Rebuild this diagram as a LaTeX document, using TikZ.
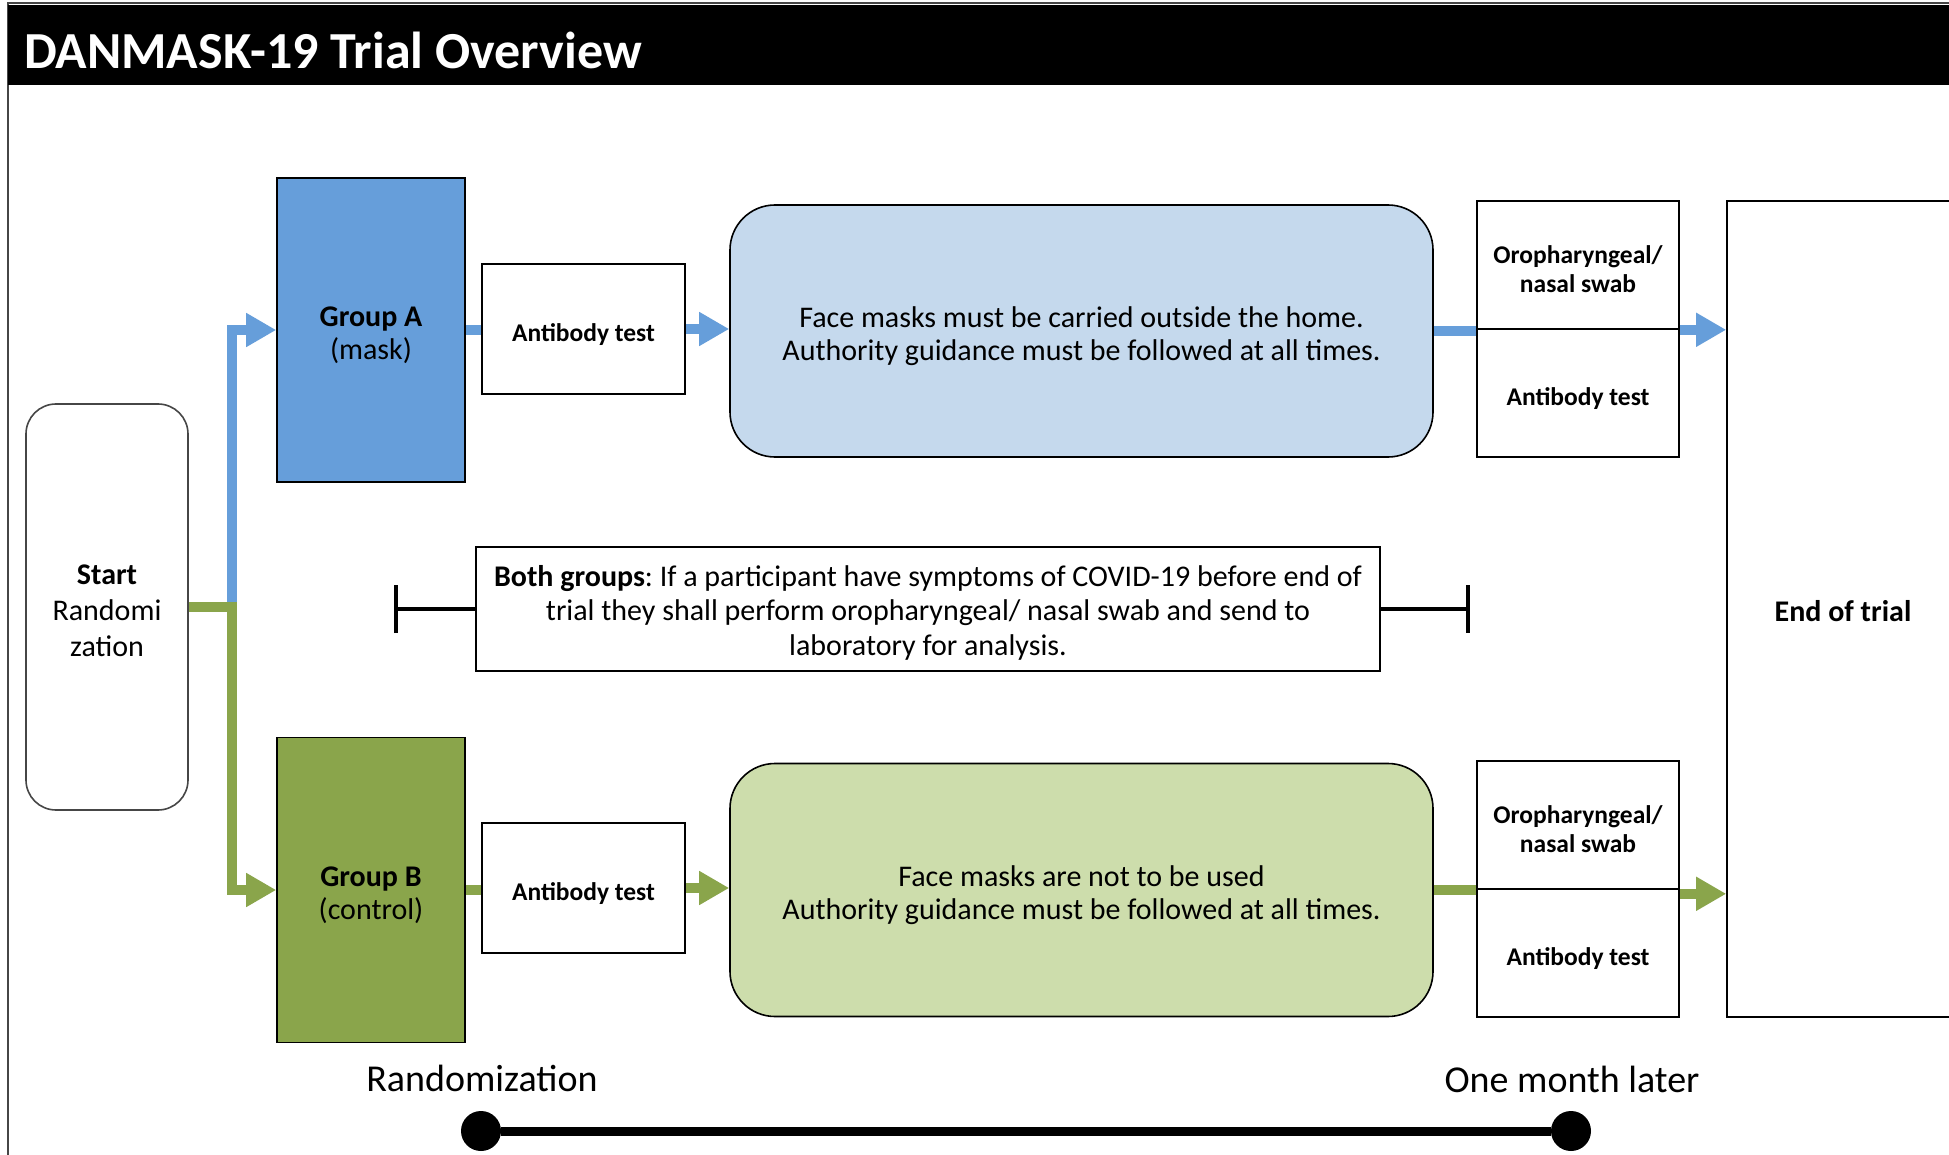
\documentclass[tikz,border=0pt]{standalone}
\usepackage{fontspec}
\setmainfont{Carlito}
\usetikzlibrary{arrows.meta}
\definecolor{gA}{RGB}{102,158,218}
\definecolor{gB}{RGB}{138,165,75}
\definecolor{fA}{RGB}{197,217,237}
\definecolor{fB}{RGB}{205,221,172}
\definecolor{frameg}{RGB}{70,70,70}
\newcommand\dropt[2]{\raisebox{-#1}[\height][\depth]{\begin{tabular}{@{}c@{}}#2\end{tabular}}}
\frenchspacing
\begin{document}
\begin{tikzpicture}[x=1pt,y=-1pt,
  bx/.style={draw=black, line width=1.6pt, inner sep=0pt, text=black},
  body/.style={font=\fontsize{30}{33}\selectfont},
  small/.style={font=\bfseries\fontsize{25.5}{29}\selectfont},
  flowA/.style={draw=gA, line width=10pt},
  flowB/.style={draw=gB, line width=10pt},
  tipA/.style={-{Triangle[length=30pt,width=32pt]}},
  ]
\clip (0,0) rectangle (1949,1155);
\fill[white] (0,0) rectangle (1949,1155);
\draw[frameg, line width=1.5pt] (8,3) rectangle (1980,1180);
\fill[black] (8,5) rectangle (1980,85);
\node[anchor=west, text=white, inner sep=0pt, font=\bfseries\fontsize{52}{60}\selectfont] (title) at (24,50) {DANMASK-19 Trial Overview};

% nodes
\node[bx, draw=frameg, rounded corners=30pt, minimum width=162pt, minimum height=406pt, font=\fontsize{30}{36}\selectfont] (start) at (107,607) {\dropt{6.5pt}{\textbf{Start}\\Randomi\\zation}};
\node[bx, fill=gA, minimum width=188pt, minimum height=304pt, body] (grpA) at (371,330) {\dropt{6pt}{\textbf{Group A}\\(mask)}};
\node[bx, fill=gB, minimum width=188pt, minimum height=305pt, body] (grpB) at (371,890) {\dropt{6pt}{\textbf{Group B}\\(control)}};
\node[bx, minimum width=203pt, minimum height=130pt, small] (abA) at (583.5,329) {\dropt{7pt}{Antibody test}};
\node[bx, minimum width=203pt, minimum height=130pt, small] (abB) at (583.5,888) {\dropt{7pt}{Antibody test}};
\node[bx, fill=fA, rounded corners=45pt, minimum width=703pt, minimum height=252pt, body] (faceA) at (1081.5,331) {\dropt{6pt}{Face masks must be carried outside the home.\\Authority guidance must be followed at all times.}};
\node[bx, fill=fB, rounded corners=45pt, minimum width=703pt, minimum height=253pt, body] (faceB) at (1081.5,890) {\dropt{6pt}{Face masks are not to be used\\Authority guidance must be followed at all times.}};
\node[bx, minimum width=202pt, minimum height=128pt, small] (swabA1) at (1578,265) {\dropt{7pt}{Oropharyngeal/\\nasal swab}};
\node[bx, minimum width=202pt, minimum height=128pt, small] (swabA2) at (1578,393) {\dropt{7pt}{Antibody test}};
\node[bx, minimum width=202pt, minimum height=128pt, small] (swabB1) at (1578,825) {\dropt{7pt}{Oropharyngeal/\\nasal swab}};
\node[bx, minimum width=202pt, minimum height=128pt, small] (swabB2) at (1578,953) {\dropt{7pt}{Antibody test}};
\node[bx, minimum width=232pt, minimum height=816pt, font=\bfseries\fontsize{30}{36}\selectfont] (endbox) at (1843,609) {\dropt{5.5pt}{End of trial}};
\node[bx, minimum width=904pt, minimum height=124pt, font=\fontsize{30}{34.5}\selectfont] (both) at (928,609) {\dropt{5pt}{\textbf{Both groups}: If a participant have symptoms of COVID-19 before end of\\trial they shall perform oropharyngeal/ nasal swab and send to\\laboratory for analysis.}};

% bars
\coordinate (barL) at (394,609);
\coordinate (barR) at (1470,609);
\draw[line width=4pt, -{Bar[width=48pt]}] (both.west) -- (barL);
\draw[line width=4pt, -{Bar[width=48pt]}] (both.east) -- (barR);

% flows
\coordinate (split) at (232,607);
\draw[flowA, tipA] (split) |- (grpA.west);
\draw[flowB, tipA] (start.east) -- (split) |- (grpB.west);
\draw[flowA] (grpA.east) -- (grpA.east -| abA.west);
\draw[flowA, tipA] (abA.east) -- (abA.east -| faceA.west);
\draw[flowA] (faceA.east) -- (faceA.east -| swabA1.west);
\draw[flowA, tipA] (swabA1.south east) -- (swabA1.south east -| endbox.west);
\draw[flowB] (grpB.east) -- (grpB.east -| abB.west);
\draw[flowB, tipA] (abB.east) -- (abB.east -| faceB.west);
\draw[flowB] (faceB.east) -- (faceB.east -| swabB1.west);
\draw[flowB, tipA] (swabB1.south east) ++(0,4) coordinate (sbe) -- (sbe -| endbox.west);

% timeline
\node[font=\fontsize{38}{44}\selectfont] (tl1) at (482,1078) {Randomization};
\node[font=\fontsize{38}{44}\selectfont] (tl2) at (1572,1079) {One month later};
\node[circle, fill=black, minimum size=40pt, inner sep=0pt] (d1) at (481,1131) {};
\node[circle, fill=black, minimum size=40pt, inner sep=0pt] (d2) at (1571,1131) {};
\draw[line width=9pt] (d1) -- (d2);
\end{tikzpicture}
\end{document}
